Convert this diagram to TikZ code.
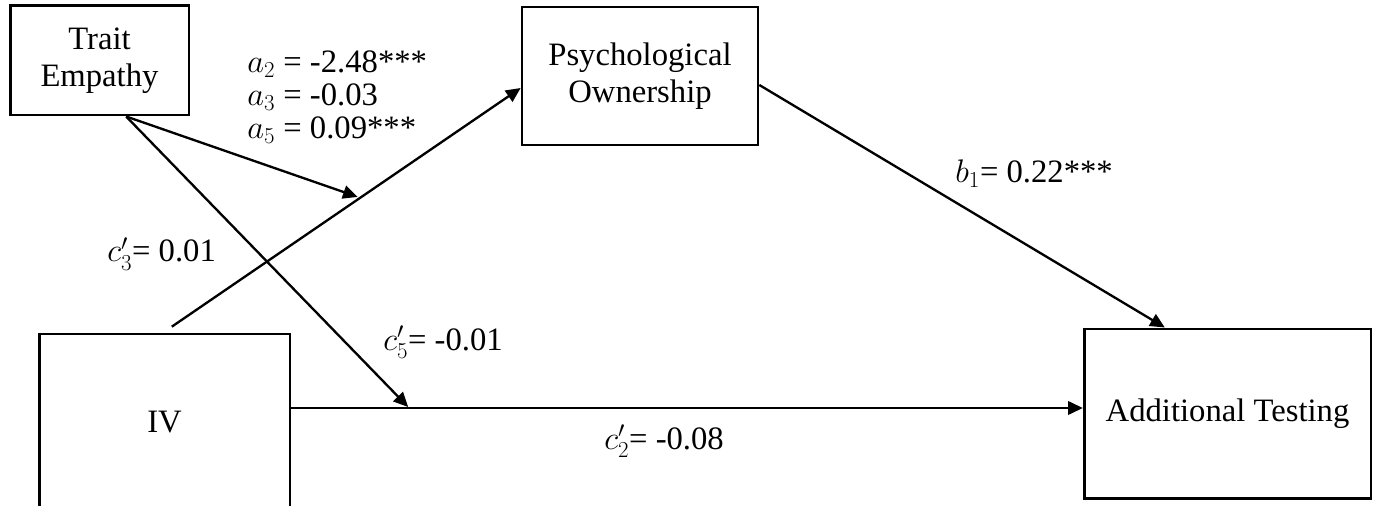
\RequirePackage{fix-cm}
\documentclass[tikz,border=0pt]{standalone}
\usepackage{fontspec}
\setmainfont{Liberation Serif}
\usetikzlibrary{arrows.meta}

\tikzset{
  var/.style={draw,line width=2pt,inner sep=0pt,align=center},
  path/.style={line width=1.75pt,-{Triangle[length=11pt,width=10pt]}},
  coef/.style={anchor=base west,inner sep=0pt}
}

\begin{document}
\begin{tikzpicture}[x=0.75pt,y=-0.75pt,font=\fontsize{24.5pt}{27.5pt}\selectfont]
        %% Frame
        \useasboundingbox (0,0) rectangle (1378,506);
        %% Variables
        \node[var,minimum width=134pt,minimum height=82pt] (te) at (99.5,60.5) {Trait\\Empathy};
        \node[var,minimum width=177pt,minimum height=103.5pt] (po) at (640,76) {Psychological\\Ownership};
        \node[var,minimum width=188pt,minimum height=132pt] (iv) at (164.5,422) {IV};
        \node[var,minimum width=215pt,minimum height=127pt] (at) at (1227.5,413.5) {Additional Testing};
        %% Paths
        \draw[path] ([xshift=5.5pt,yshift=4.5pt]iv.north) -- coordinate[pos=0.54] (m1) ([yshift=-9pt]po.west);
        \draw[path] ([yshift=-6.75pt]po.east) -- ([xshift=-47pt]at.north);
        \coordinate (lv) at ([yshift=10.5pt]iv.east);
        \draw[path] (lv) -- coordinate[pos=0.149] (m2) (lv -| at.west);
        %% Moderation
        \draw[path,shorten >=2pt] ([xshift=20pt]te.south) -- (m1);
        \draw[path,shorten >=1pt] ([xshift=20pt]te.south) -- (m2);
        %% Coefficients
        \node[coef] (a2) at (247,73) {$a_2$ = -2.48***};
        \node[coef] (a3) at (247,106) {$a_3$ = -0.03};
        \node[coef] (a5) at (247,139) {$a_5$ = 0.09***};
        \node[coef] (c3) at (107,262) {$c_3'$= 0.01};
        \node[coef] (c5) at (383,350) {$c_5'$= -0.01};
        \node[coef] (c2) at (604,449) {$c_2'$= -0.08};
        \node[coef] (b1) at (955,183) {$b_1$= 0.22***};
    \end{tikzpicture}
\end{document}
